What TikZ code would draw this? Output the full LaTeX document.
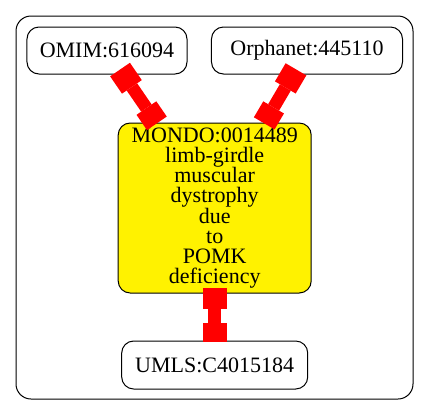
\documentclass[tikz,border=0pt]{standalone}
\usepackage{fontspec}
\setmainfont{Liberation Serif}
\usetikzlibrary{arrows.meta}
\begin{document}
\begin{tikzpicture}[x=1bp,y=-1bp,
  box/.style={draw=black, line width=1bp, rounded corners=12bp, inner sep=0pt, align=center,
    font=\fontsize{22bp}{20.2bp}\selectfont},
  link/.style={draw=red, line width=12.7bp, line join=miter,
    {Square[length=21bp,width=24bp,line width=0pt]}-{Square[length=18.5bp,width=24bp,line width=0pt]},
    shorten <=-6bp, shorten >=-1bp}]
\useasboundingbox (0,0) rectangle (429,416);
\draw[line width=1bp, rounded corners=15bp] (16,16) rectangle (413,399);
\node[box, minimum width=160bp, minimum height=47bp] (omim) at (107,50.5) {OMIM:616094};
\node[box, minimum width=191bp, minimum height=47bp] (orpha) at (307,50.5) {Orphanet:445110};
\node[box, fill=yellow, minimum width=193bp, minimum height=170bp] (mondo) at (214.7,208)
  {MONDO:0014489\\limb-girdle\\muscular\\dystrophy\\due\\to\\POMK\\deficiency};
\node[box, minimum width=186bp, minimum height=48bp] (umls) at (214.7,365) {UMLS:C4015184};
\draw[link] (omim) -- (mondo);
\draw[link] (orpha) -- (mondo);
\draw[link] (mondo) -- (umls);
\end{tikzpicture}
\end{document}
